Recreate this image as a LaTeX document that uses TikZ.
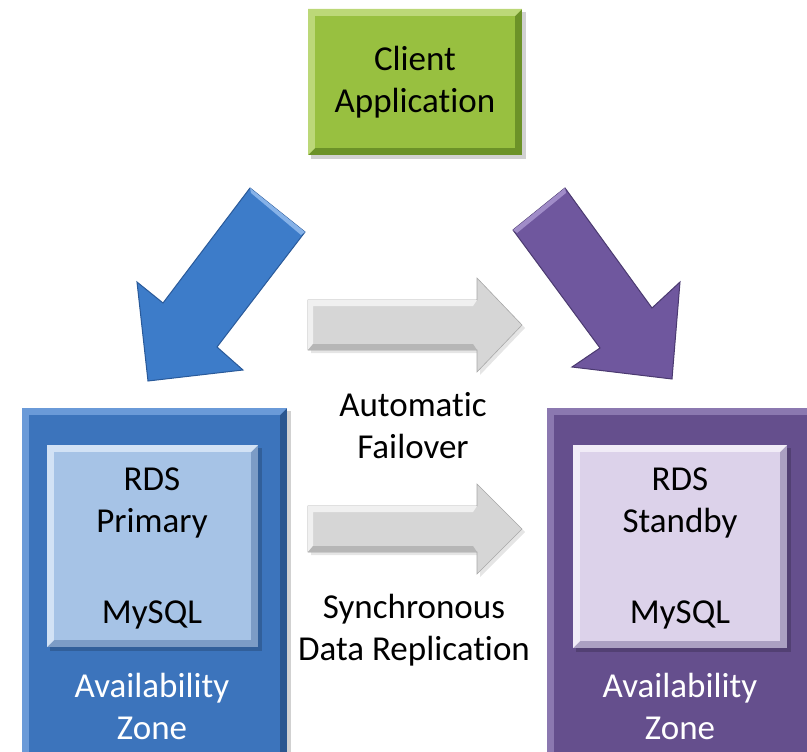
\documentclass[tikz,border=0pt]{standalone}
\usepackage{fontspec}
\setmainfont{Carlito}[Ligatures={NoCommon}]
\usetikzlibrary{calc}
\definecolor{grnM}{HTML}{98C040}\definecolor{grnL}{HTML}{BCD878}\definecolor{grnD}{HTML}{6C9228}
\definecolor{bluM}{HTML}{3C74BC}\definecolor{bluL}{HTML}{6A9AD8}\definecolor{bluD}{HTML}{2A5690}
\definecolor{blIM}{HTML}{A6C3E6}\definecolor{blIL}{HTML}{D2E2F5}\definecolor{blID}{HTML}{7C9CC6}
\definecolor{purM}{HTML}{654F8D}\definecolor{purL}{HTML}{8B78B0}\definecolor{purD}{HTML}{4A3A6A}
\definecolor{puIM}{HTML}{DCD2EA}\definecolor{puIL}{HTML}{F1ECF7}\definecolor{puID}{HTML}{ABA0C2}
\definecolor{barM}{HTML}{3D7CC9}\definecolor{barL}{HTML}{86B2E8}\definecolor{barD}{HTML}{2A5A9A}
\definecolor{parM}{HTML}{6F579E}\definecolor{parL}{HTML}{A08CC8}\definecolor{parD}{HTML}{4B3A70}
\definecolor{gryL}{HTML}{F0F0F0}\definecolor{gryM}{HTML}{D6D6D6}\definecolor{gryD}{HTML}{A8A8A8}
\newcommand\bevbox[8]{%
  \fill[#7] (#1,#2) rectangle (#3,#4);
  \fill[#6] (#1,#2) -- (#3,#2) -- (#3-#8,#2+#8) -- (#1+#8,#2+#8) -- (#1+#8,#4-#8) -- (#1,#4) -- cycle;
  \fill[#5] (#1+#8,#2+#8) rectangle (#3-#8,#4-#8);
}
\tikzset{
  lbl/.style={align=center, font=\fontsize{35}{42}\selectfont, text=black, inner sep=0pt},
  wlbl/.style={lbl, text=white},
  shade/.style={fill=black, opacity=0.18},
}
\begin{document}
\begin{tikzpicture}[x=1pt,y=-1pt]
\useasboundingbox (0,0) rectangle (807,752);
\clip (0,0) rectangle (807,752);
% shadows
\fill[shade] (311,12) rectangle (526,159);
\fill[shade] (25,411) rectangle (291,760);
\fill[shade] (550,411) rectangle (812,760);
% client box
\bevbox{308}{9}{522}{155}{grnM}{grnL}{grnD}{7}
\node[lbl] (client) at (415,82) {Client\\Application};
% left zone
\bevbox{22}{408}{287}{770}{bluM}{bluL}{bluD}{7}
\fill[shade] (50,448) rectangle (262,651);
\bevbox{47}{445}{258}{647}{blIM}{blIL}{blID}{7}
\node[lbl] (prim) at (152,503) {RDS\\Primary};
\node[lbl] (pmy) at (152,615) {MySQL};
\node[wlbl] (paz) at (152,706) {Availability\\Zone};
% right zone
\bevbox{547}{408}{820}{770}{purM}{purL}{purD}{7}
\fill[shade] (576,448) rectangle (791,652);
\bevbox{573}{445}{787}{648}{puIM}{puIL}{puID}{7}
\node[lbl] (stby) at (680,503) {RDS\\Standby};
\node[lbl] (smy) at (680,615) {MySQL};
\node[wlbl] (saz) at (680,706) {Availability\\Zone};
% blue arrow
\coordinate (b1) at (250,188); \coordinate (b2) at (305,232);
\coordinate (b3) at (217,347); \coordinate (b4) at (243,370);
\coordinate (b5) at (148,381); \coordinate (b6) at (137,282);
\coordinate (b7) at (163,303);
\fill[black, opacity=0.15, xshift=3pt, yshift=-3pt] (b1) -- (b2) -- (b3) -- (b4) -- (b5) -- (b6) -- (b7) -- cycle;
\fill[barM, draw=barD, line width=1pt] (b1) -- (b2) -- (b3) -- (b4) -- (b5) -- (b6) -- (b7) -- cycle;
\fill[barL] (b1) -- (b2) -- ($(b2)+(-4,3)$) -- ($(b1)+(1,5)$) -- cycle;
% purple arrow
\coordinate (p1) at (513,230); \coordinate (p2) at (565,188);
\coordinate (p3) at (652,308); \coordinate (p4) at (680,282);
\coordinate (p5) at (672,379); \coordinate (p6) at (572,367);
\coordinate (p7) at (600,348);
\fill[black, opacity=0.15, xshift=3pt, yshift=-3pt] (p1) -- (p2) -- (p3) -- (p4) -- (p5) -- (p6) -- (p7) -- cycle;
\fill[parM, draw=parD, line width=1pt] (p1) -- (p2) -- (p3) -- (p4) -- (p5) -- (p6) -- (p7) -- cycle;
\fill[parL] (p1) -- (p2) -- ($(p2)+(1,5)$) -- ($(p1)+(4,3)$) -- cycle;
% gray arrows
\foreach \y/\t/\c in {300/278/325, 506/484/529}{
  \fill[black, opacity=0.10] (311,\y+3) -- (480,\y+3) -- (480,\t+3) -- (525,\c+3) -- (480,2*\c-\t+3) -- (480,2*\c-\y+3) -- (311,2*\c-\y+3) -- cycle;
  \fill[gryM, draw=gryD, line width=0.6pt]
    (308,\y) -- (477,\y) -- (477,\t) -- (522,\c) -- (477,2*\c-\t) -- (477,2*\c-\y) -- (308,2*\c-\y) -- cycle;
  \fill[gryL] (308,\y) -- (477,\y) -- (473,\y+6) -- (313,\y+6) -- (313,2*\c-\y-6) -- (308,2*\c-\y) -- cycle;
  \fill[gryD!70!gryM] (308,2*\c-\y) -- (313,2*\c-\y-6) -- (473,2*\c-\y-6) -- (477,2*\c-\y) -- cycle;
}
\node[lbl] (fail) at (413,426) {Automatic\\Failover};
\node[lbl] (repl) at (414,630) {Synchronous\\Data Replication};
\end{tikzpicture}
\end{document}
